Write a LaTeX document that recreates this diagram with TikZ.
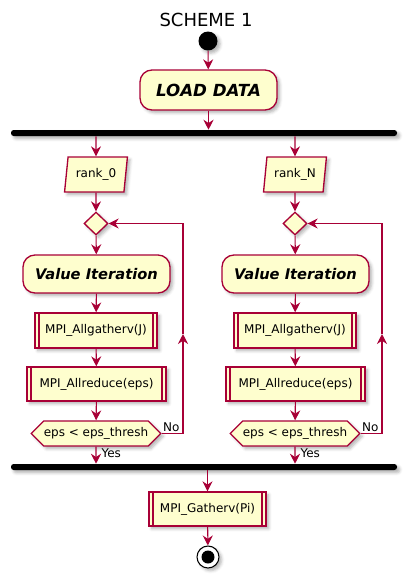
\documentclass[tikz,border=0pt]{standalone}
\usepackage{fontspec}
\setmainfont{DejaVu Sans}
\usetikzlibrary{arrows.meta,shapes.geometric,shapes.symbols,shadows.blur}
\definecolor{umlred}{HTML}{A80036}
\definecolor{umlfill}{HTML}{FEFECE}

\begin{document}
\begin{tikzpicture}[x=0.75pt,y=-0.75pt,
	flow/.style={draw=umlred, line width=0.8pt, -{Stealth[length=7.5pt,width=7.5pt,inset=2.5pt]}},
	shade/.style={blur shadow={shadow xshift=2pt,shadow yshift=-2pt,shadow opacity=30,shadow blur steps=4}},
	box/.style={draw=umlred, fill=umlfill, line width=1pt, inner sep=0pt, shade, font=\fontsize{9}{11}\selectfont},
	action/.style={box, rectangle, rounded corners=9pt, font=\fontsize{11}{13}\selectfont\bfseries\itshape},
	subbox/.style={box, rectangle, path picture={
		\draw[umlred, line width=1pt] ([xshift=3pt]path picture bounding box.north west) -- ([xshift=3pt]path picture bounding box.south west)
		([xshift=-3pt]path picture bounding box.north east) -- ([xshift=-3pt]path picture bounding box.south east);}},
	data/.style={box, trapezium, trapezium left angle=78, trapezium right angle=102, trapezium stretches=true, minimum width=47.25pt, minimum height=26.25pt},
	choice/.style={box, diamond, minimum width=18pt, minimum height=17.25pt},
	test/.style={box, signal, signal to=west and east, minimum width=94.5pt, minimum height=18.75pt},
	bar/.style={fill=black, rounded corners=2pt, minimum width=289.5pt, minimum height=4.5pt, inner sep=0pt, shade},
	lbl/.style={inner sep=1pt, font=\fontsize{9}{11}\selectfont}
	]
	\useasboundingbox (0,0) rectangle (413,583);

	\node[font=\fontsize{13.5}{16}\selectfont] (title) at (206,20) {SCHEME 1};
	\node[circle, fill=black, minimum size=14.25pt, inner sep=0pt, shade] (start) at (208,41) {};
	\node[action, minimum width=102.75pt, minimum height=30pt, font=\fontsize{12.5}{15}\selectfont\bfseries\itshape] (load) at (208.5,90) {LOAD DATA};
	\node[bar] (fork) at (204,133) {};

	% rank 0
	\node[data] (rank0) at (96,174.5) {rank\_0};
	\node[choice] (dia0) at (96,223.5) {};
	\node[action, minimum width=110.25pt, minimum height=28.5pt] (vi0) at (96.5,274) {Value Iteration};
	\node[subbox, minimum width=91.5pt, minimum height=26.25pt] (ag0) at (96,330.5) {MPI\_Allgatherv(J)};
	\node[subbox, minimum width=104.25pt, minimum height=25.5pt] (ar0) at (96.5,384) {MPI\_Allreduce(eps)};
	\node[test] (cond0) at (96,433.5) {eps < eps\_thresh};
	\coordinate (up0) at (183,334);

	% rank N
	\node[data] (rankN) at (295,174.5) {rank\_N};
	\node[choice] (diaN) at (295,223.5) {};
	\node[action, minimum width=110.25pt, minimum height=28.5pt] (viN) at (295.5,274) {Value Iteration};
	\node[subbox, minimum width=91.5pt, minimum height=26.25pt] (agN) at (295,330.5) {MPI\_Allgatherv(J)};
	\node[subbox, minimum width=104.25pt, minimum height=25.5pt] (arN) at (295.5,384) {MPI\_Allreduce(eps)};
	\node[test] (condN) at (295,433.5) {eps < eps\_thresh};
	\coordinate (upN) at (382,334);

	\node[bar] (join) at (204,467) {};
	\node[subbox, minimum width=87.75pt, minimum height=25.5pt] (gather) at (207.5,509) {MPI\_Gatherv(Pi)};
	\node[circle, draw=black, line width=0.8pt, fill=white, minimum size=16.5pt, inner sep=0pt, shade] (stop) at (208,557) {};
	\node[circle, fill=black, minimum size=9.75pt, inner sep=0pt] (stopdot) at (stop) {};

	\draw[flow] (start) -- (load);
	\draw[flow] (load) -- (load |- fork.north);

	\draw[flow] (fork.south -| rank0) -- (rank0);
	\draw[flow] (rank0) -- (dia0);
	\draw[flow] (dia0) -- (vi0);
	\draw[flow] (vi0) -- (ag0);
	\draw[flow] (ag0) -- (ar0);
	\draw[flow] (ar0) -- (cond0);
	\draw[flow] (cond0) -- (cond0 |- join.north);
	\draw[flow] (cond0.east) -| (up0);
	\draw[flow] (up0) |- (dia0.east);
	\node[lbl, anchor=south west] (no0) at (cond0.east) {No};
	\node[lbl, anchor=north west] (yes0) at ([xshift=3pt]cond0.south) {Yes};

	\draw[flow] (fork.south -| rankN) -- (rankN);
	\draw[flow] (rankN) -- (diaN);
	\draw[flow] (diaN) -- (viN);
	\draw[flow] (viN) -- (agN);
	\draw[flow] (agN) -- (arN);
	\draw[flow] (arN) -- (condN);
	\draw[flow] (condN) -- (condN |- join.north);
	\draw[flow] (condN.east) -| (upN);
	\draw[flow] (upN) |- (diaN.east);
	\node[lbl, anchor=south west] (noN) at (condN.east) {No};
	\node[lbl, anchor=north west] (yesN) at ([xshift=3pt]condN.south) {Yes};

	\draw[flow] (join.south -| gather) -- (gather);
	\draw[flow] (gather) -- (stop);
\end{tikzpicture}
\end{document}
